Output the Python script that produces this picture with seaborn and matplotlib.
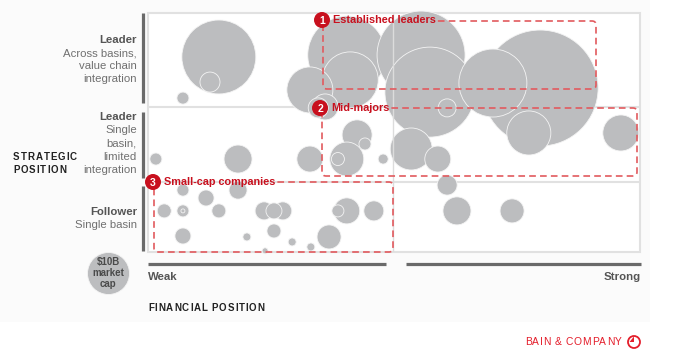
import numpy as np
import pandas as pd
import matplotlib
matplotlib.use("Agg")
import matplotlib.pyplot as plt
import seaborn as sns
from matplotlib.transforms import Affine2D
from matplotlib.patches import Circle, Rectangle, PathPatch
from matplotlib.path import Path

# ---------------- data ----------------
# financial position score (0 = weak, 100 = strong)
financial = [14.4, 12.6, 7.1, 40.4, 41.1, 32.9, 36.0, 34.6, 55.5, 57.3, 60.8, 79.7, 70.1, 77.4, 96.1,
             42.5, 44.1, 40.4, 38.6, 47.8, 53.5, 58.9, 60.8, 1.6, 18.3, 32.9,
             7.1, 11.8, 18.3, 3.3, 7.1, 7.1, 14.4, 23.6, 27.4, 25.6, 7.1, 20.1, 25.6, 29.3, 33.1,
             23.8, 36.8, 40.4, 38.6, 45.9, 62.8, 74.0]
# strategic position score (0 = follower, 100 = leader across basins)
strategic = [81.6, 71.1, 64.4, 82.4, 72.0, 67.8, 60.7, 60.3, 82.4, 66.9, 60.3, 68.6, 70.7, 49.8, 49.8,
             49.0, 45.2, 38.9, 38.9, 38.9, 43.1, 38.9, 28.0, 38.9, 38.9, 38.9,
             25.9, 22.6, 25.9, 17.2, 17.2, 17.2, 17.2, 17.2, 17.2, 17.2, 6.7, 6.3, 8.8, 4.2, 2.1,
             0.5, 6.3, 17.2, 17.2, 17.2, 17.2, 17.2]
# market cap, $B
market_cap = [31.0, 2.27, 0.82, 34.5, 17.8, 12.0, 3.83, 2.27, 43.9, 45.9, 1.84, 76.3, 26.2, 11.0, 7.35,
              5.10, 0.82, 6.55, 0.96, 0.57, 10.0, 3.83, 2.27, 0.82, 4.44, 3.83,
              0.82, 1.45, 1.84, 1.11, 0.82, 0.09, 1.11, 1.84, 1.84, 1.45, 1.45, 0.36, 1.11, 0.36, 0.36,
              0.20, 3.27, 3.83, 0.82, 2.27, 4.44, 3.27]
legend_cap = [10.0]

row_labels = [("Leader", ["Across basins,", "value chain", "integration"]),
              ("Leader", ["Single", "basin,", "limited", "integration"]),
              ("Follower", ["Single basin"])]
segments = [("1", "Established leaders"), ("2", "Mid-majors"), ("3", "Small-cap companies")]
row_bounds = [29.3, 60.7]     # strategic score boundaries between rows
col_bound = 49.8              # weak / strong split

df = pd.DataFrame({"financial": financial, "strategic": strategic, "cap": market_cap})

# ---------------- figure ----------------
W, H = 680, 355
sns.set_theme(style="white")
plt.rcParams["font.family"] = ["Liberation Sans", "DejaVu Sans"]
fig = plt.figure(figsize=(W / 100, H / 100), dpi=100)
fig.patch.set_facecolor("white")
PX = Affine2D().scale(1 / W, -1 / H).translate(0, 1) + fig.transFigure

# faint background panel
fig.patches.append(Rectangle((0, 0), 650, 322, transform=PX, facecolor="#fbfbfb", edgecolor="none",
                             zorder=-5))

ax = fig.add_axes([148 / W, (H - 252) / H, 492 / W, 239 / H])
ax.set_xlim(0, 100)
ax.set_ylim(0, 100)
ax.axis("off")
ax.patch.set_alpha(0)

GRAY = "#bcbdbf"
LINE = "#e1e1e1"
PT_PER_B = 91.45                      # marker area (pt^2) per $B
smax = PT_PER_B * max(market_cap)

# frame and row separators
ax.add_patch(Rectangle((0, 0), 1, 1, transform=ax.transAxes, facecolor="white", edgecolor=LINE,
                       linewidth=1.5, clip_on=False, zorder=0.5))
for b in row_bounds:
    ax.axhline(b, color=LINE, linewidth=1.5, zorder=1)

sns.scatterplot(data=df, x="financial", y="strategic", size="cap", sizes=(0, smax),
                size_norm=(0, max(market_cap)), color=GRAY, edgecolor="#f4f4f4", linewidth=0.6,
                alpha=1, legend=False, ax=ax, clip_on=False, zorder=2)

ax.axvline(col_bound, color="#dcdcdc", linewidth=1.0, zorder=3)

# legend bubble
sns.scatterplot(x=[-8.13], y=[-8.79], size=legend_cap, sizes=(0, smax), size_norm=(0, max(market_cap)),
                color=GRAY, edgecolor="#f4f4f4", linewidth=0.6, alpha=1, legend=False, ax=ax,
                clip_on=False, zorder=2)
fig.text(108, 273, "$10B\nmarket\ncap", transform=PX, ha="center", va="center", fontsize=7,
         fontweight="bold", color="#4a4a4a", linespacing=1.15, zorder=5)

renderer = fig.canvas.get_renderer()


def spaced(x, y, s, spacing, **kw):
    cx = x
    fs = kw.get("fontsize", 8)
    for ch in s:
        if ch == " ":
            cx += 0.28 * fs * 100 / 72 + spacing
            continue
        t = fig.text(cx, y, ch, transform=PX, ha="left", va="center", **kw)
        cx += t.get_window_extent(renderer).width + spacing
    return cx


# ---------------- left labels ----------------
DARK = "#555555"
LIGHT = "#707070"
label_y = [(40, [53, 66, 79]), (117, [130, 143, 157, 170]), (212, [225])]
for (head, lines), (hy, ly) in zip(row_labels, label_y):
    fig.text(137, hy, head, transform=PX, ha="right", va="center", fontsize=8.2,
             fontweight="bold", color=DARK)
    for ln, yy in zip(lines, ly):
        fig.text(137, yy, ln, transform=PX, ha="right", va="center", fontsize=8.2, color=LIGHT)

for y0, y1 in [(13, 103), (112, 178), (186, 251)]:
    fig.add_artist(plt.Line2D([143, 143], [y0, y1], transform=PX, color="#6a6a6a", linewidth=2.3,
                              solid_capstyle="butt"))

spaced(13, 157, "STRATEGIC", 1.0, fontsize=7, fontweight="bold", color="#222222")
spaced(13, 170, "POSITION", 1.0, fontsize=7, fontweight="bold", color="#222222")

# ---------------- bottom axis ----------------
for x0, x1 in [(148, 386), (406, 641)]:
    fig.add_artist(plt.Line2D([x0, x1], [264, 264], transform=PX, color="#6a6a6a", linewidth=2.3,
                              solid_capstyle="butt"))
fig.text(148, 277, "Weak", transform=PX, ha="left", va="center", fontsize=8.2, fontweight="bold",
         color=DARK)
fig.text(641, 277, "Strong", transform=PX, ha="right", va="center", fontsize=8.2, fontweight="bold",
         color=DARK)
spaced(148, 308, "FINANCIAL POSITION", 0.9, fontsize=7, fontweight="bold", color="#222222")

# ---------------- segment boxes ----------------
RED = "#c8101e"
DASH = "#e25a5e"
boxes = [(323, 21, 596, 89, 322, 20), (322, 108, 637, 176, 320, 108), (154, 182, 393, 252, 153, 182)]


def dashed_box(x0, y0, x1, y1, sx, r=4):
    verts = [(sx, y0), (x1 - r, y0), (x1, y0), (x1, y0 + r), (x1, y1 - r), (x1, y1), (x1 - r, y1),
             (x0 + r, y1), (x0, y1), (x0, y1 - r), (x0, y0 + 6)]
    codes = [Path.MOVETO, Path.LINETO, Path.CURVE3, Path.CURVE3, Path.LINETO, Path.CURVE3,
             Path.CURVE3, Path.LINETO, Path.CURVE3, Path.CURVE3, Path.LINETO]
    p = PathPatch(Path(verts, codes), transform=PX, fill=False, edgecolor=DASH, linewidth=1.2,
                  linestyle=(0, (4, 2.5)), zorder=6)
    fig.patches.append(p)


for (num, name), (x0, y0, x1, y1, bx, by) in zip(segments, boxes):
    t = fig.text(bx + 11, by, name, transform=PX, ha="left", va="center", fontsize=7.8,
                 fontweight="bold", color=RED, zorder=8)
    ext = t.get_window_extent(renderer)
    end_x = ext.x1 + 2
    dashed_box(x0, y0, x1, y1, end_x)
    fig.patches.append(Circle((bx, by), 8, transform=PX, facecolor=RED, edgecolor="none", zorder=9))
    fig.text(bx, by + 0.5, num, transform=PX, ha="center", va="center", fontsize=7.5,
             fontweight="bold", color="white", zorder=10)

# ---------------- footer ----------------
BRED = "#e41e2b"
spaced(525, 342, "BAIN & COMPANY", 0.6, fontsize=7.4, color=BRED)
fig.patches.append(Circle((634, 342), 6, transform=PX, fill=False, edgecolor=BRED, linewidth=1.3))
fig.patches.append(PathPatch(Path([(634, 342), (634, 336.5), (629.5, 342), (634, 342)]), transform=PX,
                             facecolor=BRED, edgecolor="none"))

fig.savefig("out.png", dpi=100)
